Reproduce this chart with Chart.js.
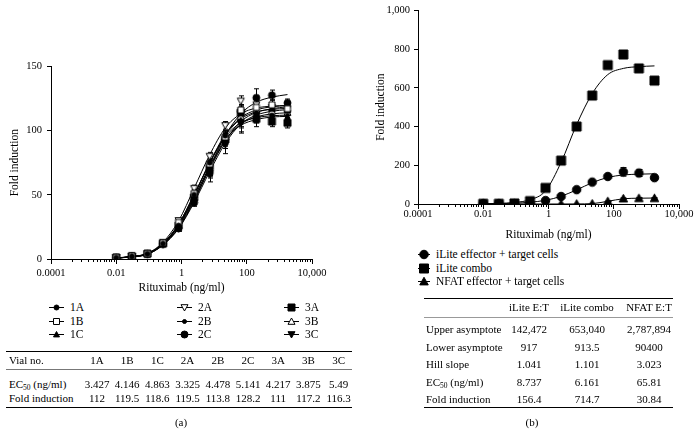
<!DOCTYPE html>
<html>
<head>
<meta charset="utf-8">
<script src="https://cdn.jsdelivr.net/npm/chart.js@4.4.1/dist/chart.umd.min.js"></script>
<style>
html, body { margin: 0; padding: 0; background: #fff; }
body { width: 699px; height: 444px; position: relative; overflow: hidden;
       font-family: "Liberation Serif", "DejaVu Serif", serif; color: #000; }
canvas { position: absolute; }
.t { position: absolute; font-size: 11px; line-height: 14px; white-space: nowrap; }
.lg { font-size: 11.5px; }
.c { transform: translateX(-50%); }
.rule { position: absolute; height: 1px; background: #000; }
sub { font-size: 7.5px; vertical-align: -2px; line-height: 0; }
</style>
</head>
<body>
<canvas id="chartA" width="340" height="245" style="left:0;top:55px;width:340px;height:245px"></canvas>
<canvas id="chartB" width="339" height="245" style="left:360px;top:0;width:339px;height:245px"></canvas>
<div id="extra"></div>
<script>
// concentrations (3-fold dilutions, ng/ml)
const concentrations = [0.01, 0.03, 0.09, 0.27, 0.81, 2.43, 7.29, 21.9, 65.6, 197, 590, 1771];

const xTickValues = [0.0001, 0.01, 1, 100, 10000];
const xTickLabels = ['0.0001', '0.01', '1', '100', '10,000'];
const yTicksA = [0, 50, 100, 150];
const yLabelsA = ['0', '50', '100', '150'];
const yTicksB = [0, 200, 400, 600, 800, 1000];
const yLabelsB = ['0', '200', '400', '600', '800', '1,000'];

// panel (a): mean fold induction per vial
const fold1A = [1.0, 2.0, 4.0, 12.0, 26.0, 50.0, 75.0, 96.0, 107, 112, 110, 109];
const fold1B = [1.2, 2.2, 4.2, 12.5, 28.5, 51.0, 74.0, 95.0, 116, 118, 120, 117];
const fold1C = [1.0, 2.0, 3.8, 11.5, 24.5, 45.0, 68.0, 91.0, 108, 115, 117, 116];
const fold2A = [1.1, 2.3, 4.3, 13.0, 30.0, 55.0, 80.0, 104, 123, 120, 118, 117];
const fold2B = [1.0, 2.0, 4.0, 12.0, 25.5, 47.0, 70.0, 92.0, 106, 111, 112, 112];
const fold2C = [1.0, 2.0, 3.9, 11.8, 24.0, 44.0, 67.0, 93.0, 115, 125.5, 127.5, 121.5];
const fold3A = [1.2, 2.1, 4.1, 12.0, 26.0, 48.0, 71.0, 93.0, 114, 109, 107, 106];
const fold3B = [1.1, 2.2, 4.2, 12.5, 27.0, 50.0, 73.0, 95.0, 111, 116, 115, 114];
const fold3C = [1.0, 1.9, 3.7, 11.0, 23.5, 44.0, 66.0, 89.0, 106, 112, 114, 113];

// panel (a): fitted curves read at the same concentrations
const fit1A = [0.8, 1.8, 4.0, 11.5, 26.0, 49.0, 75.0, 95.0, 106, 110, 111.5, 112];
const fit1B = [0.8, 1.8, 4.2, 12.0, 27.0, 50.0, 75.0, 97.0, 110, 116, 118.5, 119.5];
const fit1C = [0.8, 1.7, 3.8, 11.0, 24.5, 46.0, 70.0, 92.0, 107, 114, 117, 118.5];
const fit2A = [0.9, 2.0, 4.4, 13.0, 29.5, 55.0, 81.0, 102, 113, 117.5, 119, 119.5];
const fit2B = [0.8, 1.7, 3.9, 11.5, 25.5, 47.0, 71.0, 92.0, 105, 110.5, 113, 113.8];
const fit2C = [0.8, 1.7, 3.8, 11.0, 24.0, 45.0, 71.0, 96.0, 113, 122, 126, 128];
const fit3A = [0.8, 1.8, 4.0, 11.8, 26.0, 48.0, 72.0, 93.0, 104, 108.5, 110.5, 111];
const fit3B = [0.8, 1.8, 4.1, 12.2, 27.0, 50.0, 74.0, 96.0, 109, 114.5, 116.5, 117.2];
const fit3C = [0.7, 1.6, 3.6, 10.8, 23.5, 44.0, 68.0, 90.0, 105, 112, 115, 116.3];

// panel (a): error bars (SD)
const sd1A = [0.2, 0.3, 0.5, 1, 1.5, 2, 3, 4, 5, 4, 4, 3];
const sd1B = [0.2, 0.3, 0.5, 1, 2, 3, 3, 4, 4, 5, 4, 3];
const sd1C = [0.2, 0.3, 0.5, 1, 1.5, 2.5, 4, 5, 5, 5, 4, 4];
const sd2A = [0.2, 0.3, 0.5, 1, 1.5, 2.5, 3, 3, 4, 5, 3, 4];
const sd2B = [0.2, 0.3, 0.5, 1, 1.5, 3, 5, 6, 8, 5, 4, 4];
const sd2C = [0.2, 0.3, 0.5, 1, 1.5, 2, 4, 5, 5, 7, 4, 3];
const sd3A = [0.2, 0.3, 0.5, 1, 1.5, 2, 4, 5, 6, 6, 4, 4];
const sd3B = [0.2, 0.3, 0.5, 1, 1.5, 2, 3, 4, 4, 4, 4, 4];
const sd3C = [0.2, 0.3, 0.5, 1, 2, 3, 6, 7, 7, 6, 5, 5];

// panel (b)
const foldET = [2, 2, 2, 3, 18, 39, 74, 113, 142, 166, 160, 136];
const foldCombo = [1, 1, 3, 15, 83, 224, 400, 560, 717, 772, 700, 637];
const foldNFAT = [0.5, 0.5, 0.5, 0.5, 0.5, 0.5, 0.5, 1.5, 14, 28, 30, 30];
const fitET = [1, 2, 4, 9, 19, 40, 73, 110, 137, 150, 154, 156];
const fitCombo = [1, 3, 8, 22, 68, 215, 410, 570, 668, 700, 709, 713];
const fitNFAT = [0, 0, 0, 0, 0, 0, 0.3, 2, 14, 27, 30, 30.8];
const sdET = [0, 0, 0, 0, 2, 3, 3, 4, 5, 22, 18, 15];
const sdCombo = [0, 0, 0, 2, 4, 5, 15, 8, 5, 5, 15, 18];
const sdNFAT = [0, 0, 0, 0, 0, 0, 0, 0, 2, 3, 3, 3];

// tables
const vials = ['1A', '1B', '1C', '2A', '2B', '2C', '3A', '3B', '3C'];
const ec50A = ['3.427', '4.146', '4.863', '3.325', '4.478', '5.141', '4.217', '3.875', '5.49'];
const foldInductionA = ['112', '119.5', '118.6', '119.5', '113.8', '128.2', '111', '117.2', '116.3'];

const tableBCols = ['iLite E:T', 'iLite combo', 'NFAT E:T'];
const tableBRows = ['Upper asymptote', 'Lower asymptote', 'Hill slope', 'EC<sub>50</sub> (ng/ml)', 'Fold induction'];
const upperAsym = ['142,472', '653,040', '2,787,894'];
const lowerAsym = ['917', '913.5', '90400'];
const hillSlope = ['1.041', '1.101', '3.023'];
const ec50B = ['8.737', '6.161', '65.81'];
const foldInductionB = ['156.4', '714.7', '30.84'];

const legendB = ['iLite effector + target cells', 'iLite combo', 'NFAT effector + target cells'];

// minor tick multipliers inside every two-decade span
const minorMult = [4.4, 8.5, 13.6, 19.5, 25.8, 32.7, 41.5, 49, 59, 70, 85];

// ---------- markers ----------
const markers = {
  '1A': { shape: 'circle', size: 5 },
  '1B': { shape: 'rect', size: 6, open: true },
  '1C': { shape: 'tri', size: 6 },
  '2A': { shape: 'triDown', size: 7, open: true },
  '2B': { shape: 'circle', size: 4 },
  '2C': { shape: 'circle', size: 7 },
  '3A': { shape: 'rect', size: 7 },
  '3B': { shape: 'tri', size: 7, open: true },
  '3C': { shape: 'triDown', size: 7 },
  ET: { shape: 'circle', size: 8.5 },
  combo: { shape: 'rect', size: 9 },
  NFAT: { shape: 'tri', size: 8.5 }
};

function drawMarker(ctx, m, x, y) {
  const r = m.size / 2;
  ctx.beginPath();
  if (m.shape === 'circle') ctx.arc(x, y, r, 0, Math.PI * 2);
  else if (m.shape === 'rect') ctx.rect(x - r, y - r, 2 * r, 2 * r);
  else if (m.shape === 'tri') { ctx.moveTo(x, y - r); ctx.lineTo(x + r, y + r * 0.8); ctx.lineTo(x - r, y + r * 0.8); ctx.closePath(); }
  else if (m.shape === 'triDown') { ctx.moveTo(x, y + r); ctx.lineTo(x + r, y - r * 0.8); ctx.lineTo(x - r, y - r * 0.8); ctx.closePath(); }
  ctx.fillStyle = m.open ? '#fff' : '#000';
  ctx.fill();
  ctx.lineWidth = 1;
  ctx.strokeStyle = '#000';
  ctx.stroke();
}

function markerCanvas(m) {
  const c = document.createElement('canvas');
  c.width = c.height = Math.ceil(m.size) + 4;
  drawMarker(c.getContext('2d'), m, c.width / 2, c.height / 2);
  return c;
}

function series(values, fit, sd, m) {
  return [
    { data: concentrations.map((x, i) => ({ x, y: fit[i] })), borderColor: '#000', borderWidth: 1,
      pointRadius: 0, cubicInterpolationMode: 'monotone', order: 2 },
    { data: concentrations.map((x, i) => ({ x, y: values[i] })), showLine: false,
      pointStyle: markerCanvas(m), pointRadius: 4, sd, order: 1 }
  ];
}

// ---------- plugins ----------
const errorBars = {
  id: 'errorBars',
  beforeDatasetsDraw(chart, args, opts) {
    const { ctx } = chart, xs = chart.scales.x, ys = chart.scales.y;
    ctx.save();
    ctx.strokeStyle = '#000';
    ctx.lineWidth = 1;
    chart.data.datasets.forEach(ds => {
      if (!ds.sd) return;
      ds.data.forEach((p, i) => {
        const e = ds.sd[i];
        if (!e) return;
        const x = Math.round(xs.getPixelForValue(p.x)) + 0.5;
        const y1 = ys.getPixelForValue(p.y + e), y2 = ys.getPixelForValue(Math.max(p.y - e, 0));
        const w = opts.cap;
        ctx.beginPath();
        ctx.moveTo(x, y1); ctx.lineTo(x, y2);
        ctx.moveTo(x - w, y1); ctx.lineTo(x + w, y1);
        ctx.moveTo(x - w, y2); ctx.lineTo(x + w, y2);
        ctx.stroke();
      });
    });
    ctx.restore();
  }
};

const minorTicks = {
  id: 'minorTicks',
  afterDraw(chart) {
    const { ctx } = chart, xs = chart.scales.x, y0 = chart.chartArea.bottom;
    ctx.save();
    ctx.strokeStyle = '#000';
    ctx.lineWidth = 1;
    ctx.beginPath();
    xTickValues.slice(0, -1).forEach(base => {
      minorMult.forEach(k => {
        const x = Math.round(xs.getPixelForValue(base * k)) + 0.5;
        ctx.moveTo(x, y0); ctx.lineTo(x, y0 + 3);
      });
    });
    ctx.stroke();
    ctx.restore();
  }
};

Chart.defaults.font.family = '"Liberation Serif", "DejaVu Serif", serif';
Chart.defaults.color = '#000';

function makeChart(id, datasets, o) {
  return new Chart(document.getElementById(id), {
    type: 'line',
    data: { datasets },
    plugins: [errorBars, minorTicks],
    options: {
      responsive: false,
      animation: false,
      layout: { padding: { top: 10, right: o.padRight, left: 0, bottom: 0 } },
      plugins: { legend: { display: false }, tooltip: { enabled: false }, errorBars: { cap: o.cap } },
      scales: {
        x: {
          type: 'logarithmic', min: 0.0001, max: 10000,
          afterBuildTicks: s => { s.ticks = xTickValues.map(v => ({ value: v })); },
          afterFit: s => { s.height = 41; },
          ticks: { callback: (v, i) => xTickLabels[i], autoSkip: false, maxRotation: 0, padding: o.xPad, font: { size: 10.5 } },
          grid: { drawOnChartArea: false, drawTicks: true, tickLength: 5, color: '#000' },
          border: { display: true, color: '#000', width: 1 },
          title: { display: true, text: 'Rituximab (ng/ml)', font: { size: 11.5 }, padding: { top: 0, bottom: o.xTitlePad } }
        },
        y: {
          type: 'linear', min: 0, max: o.yTicks[o.yTicks.length - 1],
          afterBuildTicks: s => { s.ticks = o.yTicks.map(v => ({ value: v })); },
          afterFit: s => { s.width = o.yWidth; },
          ticks: { callback: (v, i) => o.yLabels[i], padding: o.yPad, font: { size: 10.5 } },
          grid: { drawOnChartArea: false, drawTicks: true, tickLength: 4, color: '#000' },
          border: { display: true, color: '#000', width: 1 },
          title: { display: true, text: 'Fold induction', font: { size: 11.5 }, padding: { top: o.yTitlePad, bottom: 0 } }
        }
      }
    }
  });
}

makeChart('chartA', [
  ...series(fold1A, fit1A, sd1A, markers['1A']),
  ...series(fold1B, fit1B, sd1B, markers['1B']),
  ...series(fold1C, fit1C, sd1C, markers['1C']),
  ...series(fold2A, fit2A, sd2A, markers['2A']),
  ...series(fold2B, fit2B, sd2B, markers['2B']),
  ...series(fold2C, fit2C, sd2C, markers['2C']),
  ...series(fold3A, fit3A, sd3A, markers['3A']),
  ...series(fold3B, fit3B, sd3B, markers['3B']),
  ...series(fold3C, fit3C, sd3C, markers['3C'])
], { padRight: 28, yWidth: 51, yTicks: yTicksA, yLabels: yLabelsA, xPad: 2.5, yPad: 5, xTitlePad: 5.4, yTitlePad: 8.4, cap: 2.5 });

makeChart('chartB', [
  ...series(foldET, fitET, sdET, markers.ET),
  ...series(foldCombo, fitCombo, sdCombo, markers.combo),
  ...series(foldNFAT, fitNFAT, sdNFAT, markers.NFAT)
], { padRight: 20, yWidth: 58, yTicks: yTicksB, yLabels: yLabelsB, xPad: -1, yPad: 4, xTitlePad: 3.4, yTitlePad: 14.4, cap: 3 });

// ---------- legends and tables (HTML) ----------
const extra = document.getElementById('extra');
function text(html, x, y, center, cls) {
  const d = document.createElement('div');
  d.className = 't' + (center ? ' c' : '') + (cls ? ' ' + cls : '');
  d.style.left = x + 'px';
  d.style.top = (y - 7) + 'px';
  d.innerHTML = html;
  extra.appendChild(d);
}
function rule(x1, x2, y, color) {
  const d = document.createElement('div');
  d.className = 'rule';
  d.style.left = x1 + 'px';
  d.style.width = (x2 - x1) + 'px';
  d.style.top = y + 'px';
  if (color) d.style.background = color;
  extra.appendChild(d);
}
function legendItem(m, label, x, y, len) {
  const c = document.createElement('canvas');
  c.width = len; c.height = 14;
  c.style.left = x + 'px';
  c.style.top = (y - 7) + 'px';
  const ctx = c.getContext('2d');
  ctx.fillStyle = '#000';
  ctx.fillRect(0, 7, len, 1);
  drawMarker(ctx, m, len / 2, 7.5);
  extra.appendChild(c);
  text(label, x + len + 6, y, false, 'lg');
}

// legend (a): three columns
const legColX = [49, 177, 284], legRowY = [307, 320.5, 334];
vials.forEach((v, i) => legendItem(markers[v], v, legColX[Math.floor(i / 3)], legRowY[i % 3], 15));

// legend (b)
[markers.ET, markers.combo, markers.NFAT].forEach((m, i) => legendItem(m, legendB[i], 418, [254, 268, 281][i], 12));

// table (a)
rule(6, 352, 351);
rule(6, 352, 369, '#777');
rule(6, 352, 407);
text('Vial no.', 9, 360);
text('EC<sub>50</sub> (ng/ml)', 9, 384);
text('Fold induction', 9, 398);
vials.forEach((v, i) => {
  const x = 97 + i * 30.2;
  text(v, x, 360, true);
  text(ec50A[i], x, 384, true);
  text(foldInductionA[i], x, 398, true);
});
text('(a)', 181, 422, true);

// table (b)
rule(424, 673, 298);
rule(424, 673, 317, '#999');
rule(424, 673, 407);
const colB = [529, 587, 649];
tableBCols.forEach((c, i) => text(c, colB[i], 307, true));
const rowsB = [upperAsym, lowerAsym, hillSlope, ec50B, foldInductionB];
const rowYB = [329, 347, 364, 382, 399];
tableBRows.forEach((r, j) => {
  text(r, 426, rowYB[j]);
  rowsB[j].forEach((v, i) => text(v, colB[i], rowYB[j], true));
});
text('(b)', 532, 422, true);
</script>
</body>
</html>
